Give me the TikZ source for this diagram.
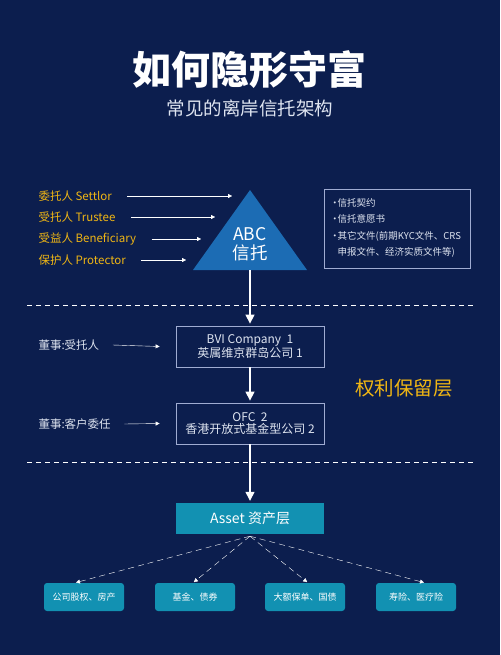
\documentclass[tikz,border=0pt]{standalone}
\usepackage{fontspec}
\setmainfont{Noto Sans CJK SC}
\usetikzlibrary{arrows.meta,positioning}
\definecolor{navy}{RGB}{12,30,78}
\definecolor{gold}{RGB}{240,182,20}
\definecolor{triblue}{RGB}{28,108,180}
\definecolor{teal}{RGB}{18,145,178}
\definecolor{frame}{RGB}{160,172,210}
\definecolor{soft}{RGB}{222,228,240}
\newcommand{\fsz}[1]{\fontsize{#1}{#1}\selectfont}
\newcommand{\dotitem}{·\kern-2pt}

\begin{document}
\begin{tikzpicture}[x=1pt,y=-1pt,
        role/.style={text=gold,anchor=west,font=\fsz{11.5}},
        director/.style={text=soft,anchor=west,font=\fsz{11.5}},
        company/.style={draw=frame,thick,text=soft,align=center,minimum width=148pt,minimum height=41pt,font=\fsz{12}},
        holding/.style={fill=teal,rounded corners=3pt,text=white,minimum width=80pt,minimum height=28pt,font=\fsz{9}},
        arr/.style={white,-{Triangle[width=4pt,length=4pt]}},
        bigarr/.style={white,line width=1.3pt,-{Triangle[width=9pt,length=9pt]},shorten >=2pt},
        sep/.style={white,dash pattern=on 5pt off 4pt}]
      \fill[navy] (0,0) rectangle (500,655);
      \useasboundingbox (0,0) rectangle (500,655);
      % title
      \node [text=white,font=\bfseries\fsz{39}] (title) at (249,70) {如何隐形守富};
      \node [text=soft,font=\fsz{18.5}]          (sub)   at (250,108) {常见的离岸信托架构};
      % trust
      \fill[triblue] (250,190) -- (307,270) -- (193,270) -- cycle;
      \node [text=white,align=center,font=\fsz{17.5},inner sep=0pt] (abc) at (250,244) {ABC\\[2pt]信托};
      \coordinate (abcbase) at (250,270);
      \node [role] (settlor)  at (35,196) {委托人 Settlor};
      \node [role] (trustee)  at (35,217) {受托人 Trustee};
      \node [role] (benef)    at (35,239) {受益人 Beneficiary};
      \node [role] (protect)  at (35,260) {保护人 Protector};
      \coordinate (t1) at (232,196);
      \coordinate (t2) at (215,217);
      \coordinate (t3) at (201,239);
      \coordinate (t4) at (186,260);
      \draw [frame] (324,189) rectangle (470,268);
      \node [text=soft,anchor=north west,align=left,font=\fontsize{9.5}{16.5}\selectfont,inner sep=0pt] (docs) at (330,198)
            {\dotitem 信托契约\\\dotitem 信托意愿书\\\dotitem 其它文件(前期KYC文件、CRS\\\hphantom{\dotitem}申报文件、经济实质文件等)};
      % layers
      \draw[sep] (27,305) -- (475,305);
      \draw[sep] (27,462) -- (475,462);
      \node [company] (bvi) at (250,346.5) {BVI Company\ \ 1\\英属维京群岛公司 1};
      \node [company] (ofc) at (250,423.5) {OFC\ \ 2\\香港开放式基金型公司 2};
      \node [director] (d1) at (35,345) {董事:受托人};
      \node [director] (d2) at (35,424) {董事:客户委任};
      \node [text=gold,font=\fsz{19.5}] (keep) at (404,388) {权利保留层};
      \node [fill=teal,text=white,minimum width=148pt,minimum height=31pt,font=\fsz{14}] (asset) at (250,518.5) {Asset 资产层};
      % holdings
      \node [holding] (h1) at (84,597)  {公司股权、房产};
      \node [holding] (h2) at (195,597) {基金、债券};
      \node [holding] (h3) at (305,597) {大额保单、国债};
      \node [holding] (h4) at (416,597) {寿险、医疗险};
      \path[arr]
      ([xshift=12pt]settlor.east) edge (t1)
      ([xshift=12pt]trustee.east) edge (t2)
      ([xshift=12pt]benef.east)   edge (t3)
      ([xshift=12pt]protect.east) edge (t4)
      ([xshift=10pt]d1.east)      edge ([xshift=-16pt]bvi.west)
      ([xshift=10pt]d2.east)      edge ([xshift=-16pt]ofc.west);
      \draw[bigarr] (abcbase) -- (bvi.north);
      \draw[bigarr] (bvi.south) -- (ofc.north);
      \draw[bigarr] (ofc.south) -- (asset.north);
      \path[arr,dash pattern=on 6pt off 4pt,shorten >=1pt]
      ([yshift=-2pt]asset.south) edge ([xshift=-9pt]h1.north)
      ([yshift=-2pt]asset.south) edge ([xshift=-2pt]h2.north)
      ([yshift=-2pt]asset.south) edge ([xshift=3pt]h3.north)
      ([yshift=-2pt]asset.south) edge ([xshift=9pt]h4.north);
\end{tikzpicture}
\end{document}
